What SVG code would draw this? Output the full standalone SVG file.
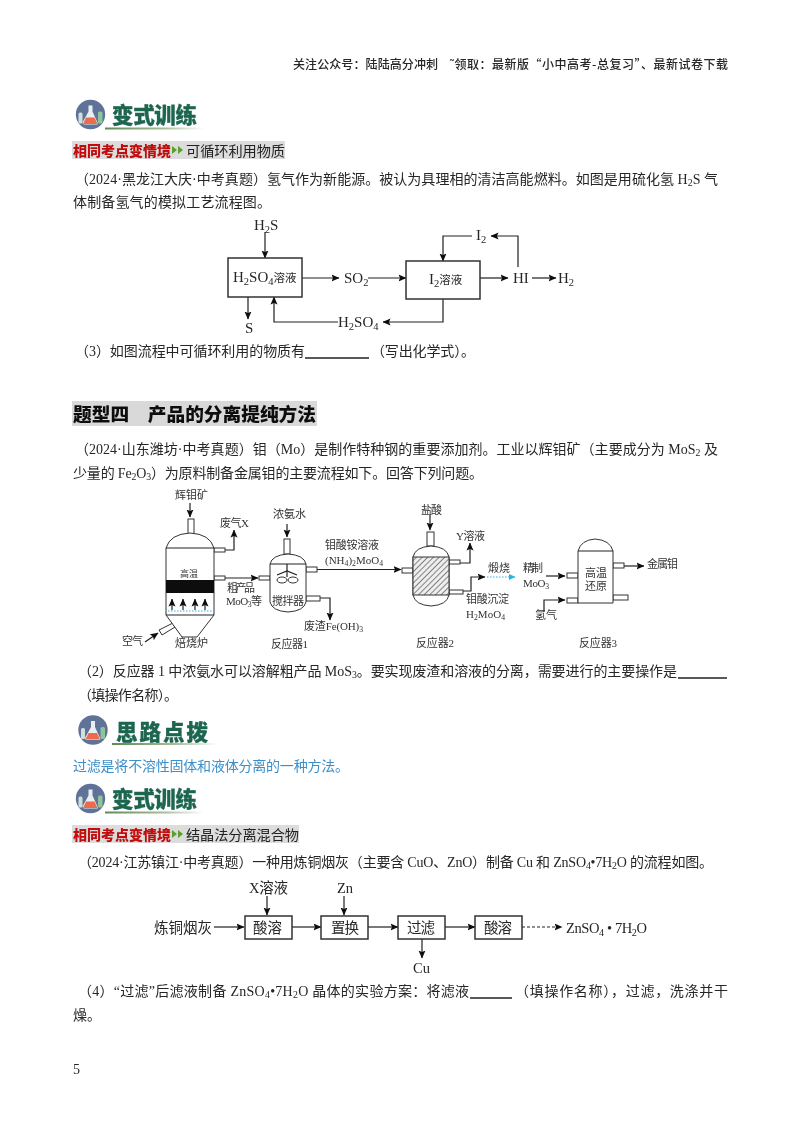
<svg xmlns="http://www.w3.org/2000/svg" width="800" height="1132" viewBox="0 0 800 1132">
<style>
text{font-family:"Liberation Serif","Noto Sans CJK SC",serif;fill:#262626}
.b{font-size:14px}
.h{font-size:12px;font-family:"Noto Sans CJK SC","Liberation Sans",sans-serif;font-weight:500}
.d{font-size:15px}
.c{font-size:11.500px}
.s{font-size:11px;fill:#333}
.m{font-size:14.500px}
.t{font-size:21.500px;font-weight:900;font-family:"Noto Sans CJK SC",sans-serif;fill:#1d6650;stroke:#1d6650;stroke-width:.3}
.r{font-size:14px;font-weight:900;font-family:"Noto Sans CJK SC",sans-serif;fill:#c00d0d}
.g{font-size:14.200px;font-family:"Noto Sans CJK SC",sans-serif;fill:#222}
.sub{font-size:70%}
.l{fill:none;stroke:#222;stroke-width:1.200}
.a{marker-end:url(#ah)}
.box{fill:#fff;stroke:#333;stroke-width:1.500}
.v{fill:#fff;stroke:#333;stroke-width:1}
.u{stroke:#222;stroke-width:1.300}
</style>
<defs>
<filter id="soft" x="0" y="0" width="100%" height="100%"><feGaussianBlur stdDeviation="0.3"/></filter>
<marker id="ah" markerUnits="userSpaceOnUse" markerWidth="8" markerHeight="8" refX="7.500" refY="4" orient="auto"><path d="M0 .5L8 4L0 7.500L1.500 4Z" fill="#111"/></marker>
<marker id="ac" markerUnits="userSpaceOnUse" markerWidth="7" markerHeight="6" refX="6" refY="3" orient="auto"><path d="M0 0L6.500 3L0 6Z" fill="#2fb2e0"/></marker>
<pattern id="hatch" width="4" height="4" patternUnits="userSpaceOnUse" patternTransform="rotate(-45)"><rect width="4" height="4" fill="#eee"/><line x1="0" y1="0" x2="4" y2="0" stroke="#555" stroke-width="1.400"/></pattern>
<linearGradient id="ug"><stop offset="0" stop-color="#5e8a55"/><stop offset="0.6" stop-color="#a9bd9a"/><stop offset="1" stop-color="#fff"/></linearGradient>
<g id="icon">
<circle r="14.700" fill="#5f7297"/>
<path d="M-2 -9L-2 -3L-8 8Q-8 10 -6 10L6 10Q8 10 7 8L2 -3L2 -9Z" fill="#e9eef0"/>
<path d="M-4.500 3L4 3L7 9.500L-7.500 9.500Z" fill="#ee6a4d"/>
<rect x="7.500" y="-3" width="4.500" height="12" rx="1.500" fill="#8fc39a"/>
<rect x="-12" y="-2" width="4" height="11" rx="1.500" fill="#cfe0d6"/>
</g>
</defs>
<rect width="800" height="1132" fill="#fff"/>
<g filter="url(#soft)">

<g id="page-header"><text class="h" x="293" y="69" textLength="145">关注公众号：陆陆高分冲刺</text><text class="h" x="450" y="69" textLength="278">˜领取：最新版“小中高考-总复习”、最新试卷下载</text></g>

<g id="section-1-head">
<use href="#icon" x="90.500" y="114.500"/>
<text class="t" x="112" y="123" textLength="85">变式训练</text>
<rect x="105" y="127.500" width="99" height="2" fill="url(#ug)"/>
<rect x="72" y="141" width="213" height="18" fill="#dcdcdc"/>
<text class="r" x="73" y="156" textLength="98">相同考点变情境</text>
<path d="M172 146l5 4-5 4zM178 146l5 4-5 4z" fill="#5aa02c"/>
<text class="g" x="186" y="156" textLength="99">可循环利用物质</text>
</g>
<text class="b" x="75" y="184" textLength="643">（2024·黑龙江大庆·中考真题）氢气作为新能源。被认为具理相的清洁高能燃料。如图是用硫化氢 H<tspan class="sub" dy="2">2</tspan><tspan dy="-2">S 气</tspan></text>
<text class="b" x="73" y="207" textLength="198">体制备氢气的模拟工艺流程图。</text>

<g id="flow-1-connectors">
<path class="l a" d="M265 232V258"/>
<path class="l a" d="M302 278H339"/>
<path class="l a" d="M368 278H406"/>
<path class="l a" d="M480 278H508"/>
<path class="l a" d="M532 278H556"/>
<path class="l a" d="M472 236H443V261"/>
<path class="l a" d="M518 267V236H491"/>
<path class="l a" d="M443 299V322H383"/>
<path class="l a" d="M338 322H274V297"/>
<path class="l a" d="M248 297V319"/>
</g>
<g id="n-h2so4"><rect class="box" x="228" y="258" width="74" height="39"/><text class="d" x="233" y="282">H<tspan class="sub" dy="3">2</tspan><tspan dy="-3">SO</tspan><tspan class="sub" dy="3">4</tspan><tspan dy="-3" class="c">溶液</tspan></text></g>
<g id="n-i2"><rect class="box" x="406" y="261" width="74" height="38"/><text class="d" x="429" y="284">I<tspan class="sub" dy="3">2</tspan><tspan dy="-3" class="c">溶液</tspan></text></g>
<g id="flow-1-labels">
<text class="d" x="254" y="230">H<tspan class="sub" dy="3">2</tspan><tspan dy="-3">S</tspan></text>
<text class="d" x="344" y="283">SO<tspan class="sub" dy="3">2</tspan></text>
<text class="d" x="513" y="283">HI</text>
<text class="d" x="558" y="283">H<tspan class="sub" dy="3">2</tspan></text>
<text class="d" x="476" y="240">I<tspan class="sub" dy="3">2</tspan></text>
<text class="d" x="338" y="327">H<tspan class="sub" dy="3">2</tspan><tspan dy="-3">SO</tspan><tspan class="sub" dy="3">4</tspan></text>
<text class="d" x="245" y="333">S</text>
</g>

<text class="b" x="75" y="356" textLength="230">（3）如图流程中可循环利用的物质有</text>
<line class="u" x1="305" y1="358" x2="369" y2="358"/>
<text class="b" x="371" y="356" textLength="104">（写出化学式）。</text>

<g id="section-title">
<rect x="72" y="401" width="245" height="25" fill="#d9d9d9"/>
<text x="73" y="421" font-size="18.700" font-weight="900" style="font-family:'Noto Sans CJK SC',sans-serif;fill:#111" textLength="243">题型四　产品的分离提纯方法</text>
</g>
<text class="b" x="75" y="454" textLength="643">（2024·山东潍坊·中考真题）钼（Mo）是制作特种钢的重要添加剂。工业以辉钼矿（主要成分为 MoS<tspan class="sub" dy="2">2</tspan><tspan dy="-2"> 及</tspan></text>
<text class="b" x="73" y="478" textLength="410">少量的 Fe<tspan class="sub" dy="2">2</tspan><tspan dy="-2">O</tspan><tspan class="sub" dy="2">3</tspan><tspan dy="-2">）为原料制备金属钼的主要流程如下。回答下列问题。</tspan></text>

<g id="flow-2-connectors">
<path class="l a" d="M190 503V517"/>
<path class="l a" d="M225 550H234V530"/>
<path class="l a" d="M225 578H258"/>
<path class="l a" d="M145 642L158 633"/>
<path class="l a" d="M287 524V537"/>
<path class="l a" d="M317 569.500H401"/>
<path class="l a" d="M320 598H330V620"/>
<path class="l a" d="M430 515V530"/>
<path class="l a" d="M460 563H470V543"/>
<path class="l a" d="M463 591H471V577H485"/>
<path d="M487 577H515" fill="none" stroke="#2fb2e0" stroke-width="1" stroke-dasharray="1.500 1.500" marker-end="url(#ac)"/>
<path class="l a" d="M546 576H565"/>
<path class="l a" d="M544 612V600H565"/>
<path class="l a" d="M624 566H644"/>
</g>
<g id="n-furnace">
<rect class="v" x="188" y="519" width="6" height="15"/>
<rect class="v" x="214" y="548" width="11" height="4"/>
<rect class="v" x="214" y="576" width="11" height="4"/>
<path class="v" d="M159 630L173 623L175 627L162 635Z"/>
<path class="v" d="M166 548Q170 534 190 533Q210 534 214 548V615L197 637H182L166 615Z"/>
<line class="l" x1="166" y1="548" x2="214" y2="548"/>
<line class="l" x1="166" y1="615" x2="214" y2="615"/>
<rect x="166" y="580" width="48" height="13" fill="#111"/>
<line x1="168" y1="611" x2="213" y2="611" stroke="#2fb2e0" stroke-width="1" stroke-dasharray="1.500 1.500"/>
<path class="l a" d="M172 610V599"/><path class="l a" d="M183 610V599"/><path class="l a" d="M195 610V599"/><path class="l a" d="M205 610V599"/>
<text class="s" x="180" y="577" style="font-size:9px">高温</text>
</g>
<g id="n-reactor1">
<rect class="v" x="284" y="539" width="6" height="15"/>
<rect class="v" x="306" y="567" width="11" height="5"/>
<rect class="v" x="306" y="596" width="14" height="5"/>
<rect class="v" x="259" y="576" width="11" height="4"/>
<path class="v" d="M270 564Q272 555 288 554Q304 555 306 564V602Q304 611 288 612Q272 611 270 602Z"/>
<line class="l" x1="270" y1="564" x2="306" y2="564"/>
<line class="l" x1="287" y1="564" x2="287" y2="577"/>
<path class="l" d="M277 575L287 571L297 575"/>
<ellipse class="v" cx="282" cy="580" rx="5" ry="3"/><ellipse class="v" cx="293" cy="580" rx="5" ry="3"/>
<text class="s" x="272" y="605" textLength="32">搅拌器</text>
</g>
<g id="n-reactor2">
<rect class="v" x="427" y="532" width="7" height="14"/>
<rect class="v" x="402" y="568" width="11" height="5"/>
<rect class="v" x="449" y="560" width="11" height="4"/>
<rect class="v" x="449" y="590" width="14" height="4"/>
<path class="v" d="M413 557Q415 547 431 546Q447 547 449 557V595Q447 605 431 606Q415 605 413 595Z"/>
<rect x="413" y="557" width="36" height="38" fill="url(#hatch)" stroke="#333"/>
</g>
<g id="n-reactor3">
<rect class="v" x="567" y="573" width="11" height="5"/>
<rect class="v" x="567" y="598" width="11" height="5"/>
<rect class="v" x="613" y="563" width="11" height="5"/>
<rect class="v" x="613" y="595" width="15" height="5"/>
<path class="v" d="M578 551Q581 540 595 539Q610 540 613 551V603H578Z"/>
<line class="l" x1="578" y1="551" x2="613" y2="551"/>
<text class="s" x="585" y="577" textLength="22">高温</text>
<text class="s" x="585" y="590" textLength="22">还原</text>
</g>
<g id="flow-2-labels">
<text class="s" x="175" y="499" textLength="33">辉钼矿</text>
<text class="s" x="220" y="527" textLength="29">废气X</text>
<text class="s" x="227" y="592" textLength="28">粗产品</text>
<text class="s" x="226" y="605" textLength="36">MoO<tspan class="sub" dy="2">3</tspan><tspan dy="-2">等</tspan></text>
<text class="s" x="122" y="645" textLength="21">空气</text>
<text class="s" x="175" y="647" textLength="33">焙烧炉</text>
<text class="s" x="273" y="518" textLength="33">浓氨水</text>
<text class="s" x="325" y="549" textLength="54">钼酸铵溶液</text>
<text class="s" x="325" y="564" textLength="58">(NH<tspan class="sub" dy="2">4</tspan><tspan dy="-2">)</tspan><tspan class="sub" dy="2">2</tspan><tspan dy="-2">MoO</tspan><tspan class="sub" dy="2">4</tspan></text>
<text class="s" x="304" y="630" textLength="59">废渣Fe(OH)<tspan class="sub" dy="2">3</tspan></text>
<text class="s" x="271" y="648" textLength="37">反应器1</text>
<text class="s" x="421" y="514" textLength="21">盐酸</text>
<text class="s" x="456" y="540" textLength="29">Y溶液</text>
<text class="s" x="488" y="572" textLength="22">煅烧</text>
<text class="s" x="523" y="572" textLength="20">精制</text>
<text class="s" x="523" y="587" textLength="26">MoO<tspan class="sub" dy="2">3</tspan></text>
<text class="s" x="466" y="603" textLength="43">钼酸沉淀</text>
<text class="s" x="466" y="618" textLength="39">H<tspan class="sub" dy="2">2</tspan><tspan dy="-2">MoO</tspan><tspan class="sub" dy="2">4</tspan></text>
<text class="s" x="535" y="619" textLength="22">氢气</text>
<text class="s" x="647" y="568" textLength="31">金属钼</text>
<text class="s" x="416" y="647" textLength="38">反应器2</text>
<text class="s" x="579" y="647" textLength="38">反应器3</text>
</g>

<text class="b" x="78" y="676" textLength="599">（2）反应器 1 中浓氨水可以溶解粗产品 MoS<tspan class="sub" dy="2">3</tspan><tspan dy="-2">。要实现废渣和溶液的分离，需要进行的主要操作是</tspan></text>
<line class="u" x1="678" y1="678" x2="727" y2="678" stroke-width="1.600"/>
<text class="b" x="78" y="700" textLength="100">（填操作名称）。</text>

<g id="section-2-head">
<use href="#icon" x="93" y="730"/>
<text class="t" x="116" y="740" textLength="92">思路点拨</text>
<rect x="112" y="743" width="106" height="2" fill="url(#ug)"/>
</g>
<text class="b" x="73" y="771" textLength="276" style="fill:#3d8fc9">过滤是将不溶性固体和液体分离的一种方法。</text>

<g id="section-3-head">
<use href="#icon" x="90.500" y="798.500"/>
<text class="t" x="112" y="807" textLength="85">变式训练</text>
<rect x="105" y="811.500" width="99" height="2" fill="url(#ug)"/>
<rect x="72" y="825" width="227" height="18" fill="#dcdcdc"/>
<text class="r" x="73" y="840" textLength="98">相同考点变情境</text>
<path d="M172 830l5 4-5 4zM178 830l5 4-5 4z" fill="#5aa02c"/>
<text class="g" x="186" y="840" textLength="113">结晶法分离混合物</text>
</g>
<text class="b" x="78" y="867" textLength="635">（2024·江苏镇江·中考真题）一种用炼铜烟灰（主要含 CuO、ZnO）制备 Cu 和 ZnSO<tspan class="sub" dy="2">4</tspan><tspan dy="-2">•7H</tspan><tspan class="sub" dy="2">2</tspan><tspan dy="-2">O 的流程如图。</tspan></text>

<g id="flow-3-connectors">
<path class="l a" d="M214 927H244"/>
<path class="l a" d="M292 927H321"/>
<path class="l a" d="M368 927H398"/>
<path class="l a" d="M445 927H475"/>
<path class="l a" d="M522 927H562" stroke-dasharray="3 2"/>
<path class="l a" d="M267 896V915"/>
<path class="l a" d="M344 896V915"/>
<path class="l a" d="M422 939V958"/>
</g>
<g id="n-acid1"><rect class="box" x="245" y="916" width="47" height="23"/><text class="m" x="253" y="933" textLength="29">酸溶</text></g>
<g id="n-replace"><rect class="box" x="321" y="916" width="47" height="23"/><text class="m" x="331" y="933" textLength="28">置换</text></g>
<g id="n-filter"><rect class="box" x="398" y="916" width="47" height="23"/><text class="m" x="407" y="933" textLength="28">过滤</text></g>
<g id="n-acid2"><rect class="box" x="475" y="916" width="47" height="23"/><text class="m" x="484" y="933" textLength="28">酸溶</text></g>
<g id="flow-3-labels">
<text class="m" x="154" y="933" textLength="58">炼铜烟灰</text>
<text class="m" x="249" y="893" textLength="39">X溶液</text>
<text class="m" x="337" y="893" textLength="16">Zn</text>
<text class="m" x="413" y="973" textLength="17">Cu</text>
<text class="m" x="566" y="933" textLength="81">ZnSO<tspan class="sub" dy="3">4</tspan><tspan dy="-3"> • 7H</tspan><tspan class="sub" dy="3">2</tspan><tspan dy="-3">O</tspan></text>
</g>

<text class="b" x="78" y="996" textLength="391">（4）“过滤”后滤液制备 ZnSO<tspan class="sub" dy="2">4</tspan><tspan dy="-2">•7H</tspan><tspan class="sub" dy="2">2</tspan><tspan dy="-2">O 晶体的实验方案：将滤液</tspan></text>
<line class="u" x1="470" y1="998" x2="512" y2="998" stroke-width="1.600"/>
<text class="b" x="515" y="996" textLength="213">（填操作名称），过滤，洗涤并干</text>
<text class="b" x="73" y="1020">燥。</text>
<text class="b" x="73" y="1074">5</text>
</g>
</svg>
